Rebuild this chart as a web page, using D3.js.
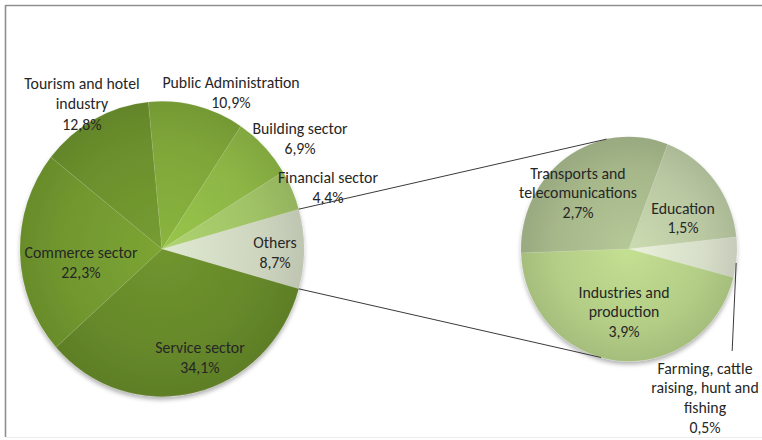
<!DOCTYPE html>
<html>
<head>
<meta charset="utf-8">
<script src="https://cdn.jsdelivr.net/npm/d3@7"></script>
<style>
  html, body { margin: 0; padding: 0; background: #ffffff; }
  svg { display: block; }
  text { font-family: Carlito, Calibri, Lato, "Open Sans", sans-serif; font-size: 15.8px; fill: #262626; }
</style>
</head>
<body>
<svg id="chart" width="762" height="440"></svg>
<script>
// Employment by sector: main pie, with "Others" broken out into a second pie
const mainCategories = ["Others", "Service sector", "Commerce sector", "Tourism and hotel\nindustry",
                        "Public Administration", "Building sector", "Financial sector"];
const mainValues = [8.7, 34.1, 22.3, 12.8, 10.9, 6.9, 4.4];

const subCategories = ["Transports and\ntelecomunications", "Education",
                       "Farming, cattle\nraising, hunt and\nfishing", "Industries and\nproduction"];
const subValues = [2.7, 1.5, 0.5, 3.9];

// Slice fills
const mainColors = ["#cdd5bf", "#66882a", "#71972f", "#6b902d", "#7ea639", "#8cb545", "#a0c266"];
const subColors = ["#a6b78a", "#bac8a2", "#d6ddc8", "#b3cd86"];

// Label anchors: centre x, centre y of the first line
const mainLabelPos = [[275, 242], [200, 347], [81, 252], [82, 83], [231, 82], [300, 128], [328, 177]];
const subLabelPos = [[578, 173], [683, 208], [705, 368], [624, 292]];

const fmt = v => d3.format(".1f")(v).replace(".", ",") + "%";

const svg = d3.select("#chart");
const defs = svg.append("defs");

const shadow = defs.append("filter").attr("id", "shadow")
  .attr("x", "-10%").attr("y", "-10%").attr("width", "120%").attr("height", "125%");
shadow.append("feDropShadow").attr("dx", 0).attr("dy", 3).attr("stdDeviation", 2.2)
  .attr("flood-color", "#000").attr("flood-opacity", 0.3);

// Frame
svg.append("line").attr("x1", 5.5).attr("x2", 762).attr("y1", 5.5).attr("y2", 5.5)
  .attr("stroke", "#8f8f8f").attr("stroke-width", 1.6);
svg.append("line").attr("x1", 5.5).attr("x2", 5.5).attr("y1", 5).attr("y2", 437)
  .attr("stroke", "#8f8f8f").attr("stroke-width", 1.6);
svg.append("line").attr("x1", 6).attr("x2", 762).attr("y1", 437.5).attr("y2", 437.5)
  .attr("stroke", "#ececec").attr("stroke-width", 1);

const yScale = 1.04;

function gradient(id, base, r) {
  const c = d3.color(base);
  const g = defs.append("radialGradient").attr("id", id)
    .attr("gradientUnits", "userSpaceOnUse").attr("cx", 0).attr("cy", 0).attr("r", r);
  g.append("stop").attr("offset", "0%").attr("stop-color", c.brighter(0.25));
  g.append("stop").attr("offset", "70%").attr("stop-color", c);
  g.append("stop").attr("offset", "100%").attr("stop-color", c.darker(0.22));
}

function drawPie(cx, cy, r, start, values, colors, prefix) {
  const arcs = d3.pie().sort(null).value(d => d)
    .startAngle(start).endAngle(start + 2 * Math.PI)(values);
  const arc = d3.arc().innerRadius(0).outerRadius(r);
  const g = svg.append("g").attr("transform", `translate(${cx},${cy}) scale(1,${yScale})`);
  const body = g.append("g").attr("filter", "url(#shadow)");
  colors.forEach((c, i) => gradient(`${prefix}${i}`, c, r));
  body.selectAll("path").data(arcs).join("path")
    .attr("d", arc)
    .attr("fill", (d, i) => `url(#${prefix}${i})`)
    .attr("stroke", "rgba(255,255,255,0.12)")
    .attr("stroke-width", 0.7)
    .attr("stroke-linejoin", "round");
  return arcs;
}

function pointOn(cx, cy, r, a) {
  return [cx + r * Math.sin(a), cy - r * Math.cos(a) * yScale];
}

// Main pie, "Others" centred at three o'clock
const mainCx = 162, mainCy = 249, mainR = 142;
const othersSpan = 2 * Math.PI * mainValues[0] / d3.sum(mainValues);
const mainStart = Math.PI / 2 - othersSpan / 2;
const mainArcs = drawPie(mainCx, mainCy, mainR, mainStart, mainValues, mainColors, "m");

// Second pie
const subCx = 629, subCy = 249, subR = 108;
const subStart = -92 * Math.PI / 180;
const subArcs = drawPie(subCx, subCy, subR, subStart, subValues, subColors, "s");

// Connector lines from the "Others" slice to the second pie
const oA = mainArcs[0];
const p1 = pointOn(mainCx, mainCy, mainR, oA.startAngle);
const p2 = pointOn(mainCx, mainCy, mainR, oA.endAngle);
const topA = (258 + 90) * Math.PI / 180;
const botA = (105 + 90) * Math.PI / 180;
const t1 = pointOn(subCx, subCy, subR, topA);
const t2 = pointOn(subCx, subCy, subR, botA);
svg.append("line").attr("x1", p1[0]).attr("y1", p1[1]).attr("x2", t1[0]).attr("y2", t1[1])
  .attr("stroke", "#3a3a3a").attr("stroke-width", 1);
svg.append("line").attr("x1", p2[0]).attr("y1", p2[1]).attr("x2", t2[0]).attr("y2", t2[1])
  .attr("stroke", "#3a3a3a").attr("stroke-width", 1);

// Leader line for the small farming slice
const fA = subArcs[2];
const fp = pointOn(subCx, subCy, subR, (fA.startAngle + fA.endAngle) / 2 + 0.05);
svg.append("line").attr("x1", fp[0]).attr("y1", fp[1]).attr("x2", fp[0] - 4).attr("y2", 351)
  .attr("stroke", "#3a3a3a").attr("stroke-width", 1);

// Labels
function drawLabels(categories, values, positions, lineH) {
  categories.forEach((name, i) => {
    const lines = name.split("\n").concat([fmt(values[i])]);
    const [x, y] = positions[i];
    const t = svg.append("text").attr("text-anchor", "middle");
    lines.forEach((ln, j) => {
      t.append("tspan").attr("x", x).attr("y", y + j * lineH).attr("dy", "0.35em").text(ln);
    });
  });
}
drawLabels(mainCategories, mainValues, mainLabelPos, 20.8);
drawLabels(subCategories, subValues, subLabelPos, 19.8);
</script>
</body>
</html>
